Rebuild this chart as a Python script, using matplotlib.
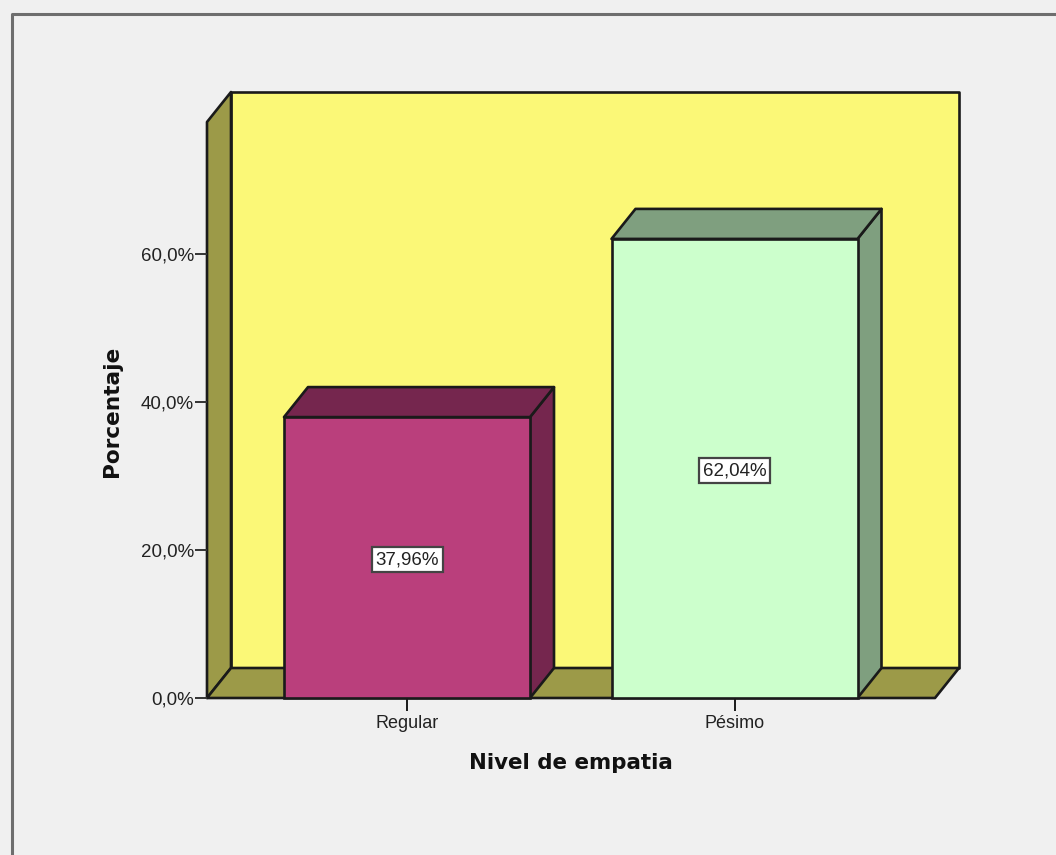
# -*- coding: utf-8 -*-
import matplotlib
matplotlib.use("Agg")
import matplotlib.pyplot as plt
from matplotlib.lines import Line2D
from matplotlib.patches import Polygon

categories = ["Regular", "Pésimo"]
values = [37.96, 62.04]
value_labels = ["37,96%", "62,04%"]
y_ticks = [0, 20, 40, 60]
y_tick_labels = ["0,0%", "20,0%", "40,0%", "60,0%"]
front_colors = ["#BA3F7C", "#CCFFCC"]
shade_colors = ["#75264E", "#7F9F7F"]

W, H = 1056, 855
BG = "#F0F0F0"
WALL = "#FBF877"
WALL_SHADE = "#9C9A48"
EDGE = "#1A1A1A"
TXT = "#222222"

plt.rcParams["font.family"] = ["Liberation Sans", "DejaVu Sans"]

fig = plt.figure(figsize=(W / 100, H / 100), dpi=100, facecolor=BG)
ax = fig.add_axes([207 / W, (H - 698) / H, 728 / W, 576 / H])
ax.set_facecolor("none")

# one category step is 327.5 px, one percent is 7.4 px
xmin, xmax = (207 - 407) / 327.5, (935 - 407) / 327.5
ymax = 576 / 7.4
ax.set_xlim(xmin, xmax)
ax.set_ylim(0, ymax)
dx = 24 / 327.5
dy = 30 / 7.4
bar_w = 246 / 327.5


def poly(pts, color, z):
    ax.add_patch(Polygon(pts, closed=True, facecolor=color, edgecolor=EDGE,
                         linewidth=1.9, joinstyle="round", clip_on=False, zorder=z))


# walls and floor
poly([(xmin + dx, dy), (xmax + dx, dy), (xmax + dx, ymax + dy), (xmin + dx, ymax + dy)], WALL, 1)
poly([(xmin, 0), (xmin + dx, dy), (xmin + dx, ymax + dy), (xmin, ymax)], WALL_SHADE, 1)
poly([(xmin, 0), (xmax, 0), (xmax + dx, dy), (xmin + dx, dy)], WALL_SHADE, 1)

# bars
for i, v in enumerate(values):
    l, r = i - bar_w / 2, i + bar_w / 2
    poly([(r, 0), (r + dx, dy), (r + dx, v + dy), (r, v)], shade_colors[i], 3)
    poly([(l, v), (r, v), (r + dx, v + dy), (l + dx, v + dy)], shade_colors[i], 3)
    ax.bar(i, v, width=bar_w, color=front_colors[i], edgecolor=EDGE, linewidth=1.9,
           clip_on=False, zorder=4)
    ax.annotate(value_labels[i], (i, v / 2), xytext=(0, -1.5), textcoords="offset points",
                ha="center", va="center", fontsize=13.5, color=TXT, zorder=6,
                bbox=dict(boxstyle="square,pad=0.2", facecolor="white", edgecolor="#444444", linewidth=1.6))

for s in ax.spines.values():
    s.set_visible(False)

ax.set_xticks(range(len(categories)))
ax.set_xticklabels(categories, fontsize=13, color=TXT)
ax.set_yticks(y_ticks)
ax.set_yticklabels(y_tick_labels, fontsize=13.5, color=TXT)
ax.tick_params(axis="x", length=9, width=1.4, color=EDGE, pad=3)
ax.tick_params(axis="y", length=9, width=1.4, color="#333333", pad=0.5)

fig.text(571 / W, 1 - 763 / H, "Nivel de empatia", ha="center", va="center",
         fontsize=15.4, fontweight="bold", color="#111111", family=["DejaVu Sans"])
fig.text(112 / W, 1 - 411 / H, "Porcentaje", ha="center", va="center", rotation=90,
         fontsize=15.6, fontweight="bold", color="#111111", family=["DejaVu Sans"])

# outer frame of the output window, only top and left are visible
fig.add_artist(Line2D([11.5 / W, 11.5 / W, 1], [0, 1 - 14.5 / H, 1 - 14.5 / H],
                      color="#6E6E6E", linewidth=2.2))

fig.savefig("out.png", dpi=100, facecolor=BG)
